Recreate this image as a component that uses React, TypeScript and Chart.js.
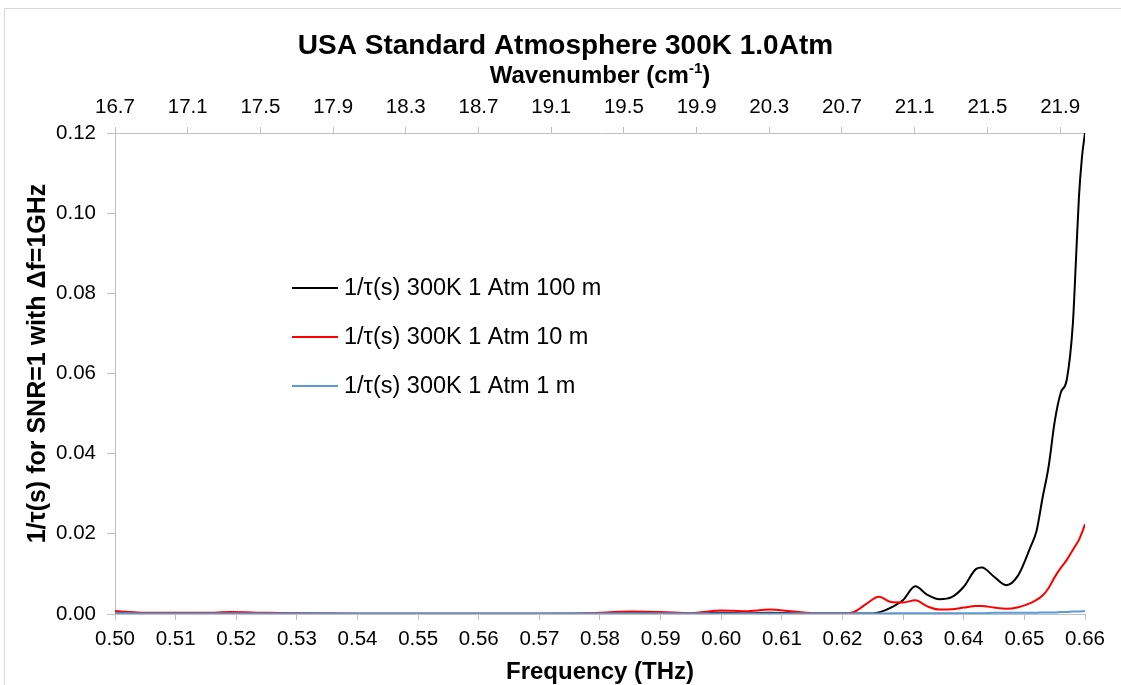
import React, { useEffect, useRef } from 'react';
import { Chart, registerables } from 'chart.js';

Chart.register(...registerables);

// ---- data ----
const FREQ_THZ = [
  0.500, 0.505, 0.510, 0.515, 0.519, 0.525, 0.530, 0.540, 0.550, 0.560,
  0.570, 0.578, 0.585, 0.590, 0.595, 0.600, 0.604, 0.608, 0.612, 0.616,
  0.620, 0.622, 0.624, 0.626, 0.628, 0.630, 0.632, 0.634, 0.636, 0.638,
  0.640, 0.642, 0.643, 0.645, 0.647, 0.649, 0.651, 0.652, 0.653, 0.654,
  0.655, 0.656, 0.657, 0.658, 0.6585, 0.659, 0.6595, 0.660,
];

const SERIES_100M = [
  0.0006, 0.0002, 0.0001, 0.0001, 0.0002, 0.0001, 0.0001, 0.0000, 0.0000, 0.0000,
  0.0000, 0.0001, 0.0002, 0.0002, 0.0001, 0.0003, 0.0002, 0.0003, 0.0002, 0.0001,
  0.0001, 0.0001, 0.0001, 0.0004, 0.0016, 0.0035, 0.0069, 0.0048, 0.0037, 0.0042,
  0.0068, 0.0112, 0.0116, 0.0093, 0.0072, 0.0097, 0.0167, 0.0207, 0.0290, 0.0368,
  0.0480, 0.0552, 0.0585, 0.0725, 0.0880, 0.1040, 0.1140, 0.1200,
];

const SERIES_10M = [
  0.0007, 0.0003, 0.0003, 0.0003, 0.0005, 0.0003, 0.0002, 0.0001, 0.0001, 0.0001,
  0.0001, 0.0002, 0.0006, 0.0005, 0.0002, 0.0009, 0.0007, 0.0011, 0.0006, 0.0002,
  0.0002, 0.0006, 0.0026, 0.0043, 0.0030, 0.0029, 0.0034, 0.0019, 0.0011, 0.0012,
  0.0016, 0.0020, 0.0020, 0.0016, 0.0013, 0.0017, 0.0027, 0.0035, 0.0046, 0.0065,
  0.0092, 0.0115, 0.0135, 0.0160, 0.0172, 0.0185, 0.0203, 0.0224,
];

const SERIES_1M = [
  0.0002, 0.0001, 0.0001, 0.0001, 0.0001, 0.0001, 0.0001, 0.0001, 0.0001, 0.0001,
  0.0001, 0.0001, 0.0001, 0.0001, 0.0001, 0.0001, 0.0001, 0.0001, 0.0001, 0.0001,
  0.0001, 0.0001, 0.0001, 0.0001, 0.0002, 0.0002, 0.0002, 0.0002, 0.0002, 0.0002,
  0.0002, 0.0002, 0.0002, 0.0003, 0.0003, 0.0003, 0.0003, 0.0003, 0.0004, 0.0004,
  0.0004, 0.0005, 0.0005, 0.0006, 0.0006, 0.0006, 0.0007, 0.0007,
];

const SERIES_NAMES = [
  '1/\u03c4(s) 300K 1 Atm 100 m',
  '1/\u03c4(s) 300K 1 Atm 10 m',
  '1/\u03c4(s) 300K 1 Atm 1 m',
];
const SERIES_COLORS = ['#000000', '#ff0000', '#5b9bd5'];

const FREQ_TICKS = [0.50, 0.51, 0.52, 0.53, 0.54, 0.55, 0.56, 0.57, 0.58, 0.59, 0.60, 0.61, 0.62, 0.63, 0.64, 0.65, 0.66];
const Y_TICKS = [0.00, 0.02, 0.04, 0.06, 0.08, 0.10, 0.12];
const WAVENUMBER_LABELS = ['16.7', '17.1', '17.5', '17.9', '18.3', '18.7', '19.1', '19.5', '19.9', '20.3', '20.7', '21.1', '21.5', '21.9'];
const WAVENUMBER_STEP = 0.4;

const TITLE = 'USA Standard Atmosphere 300K 1.0Atm';
const TOP_AXIS_TITLE = 'Wavenumber (cm';
const TOP_AXIS_SUP = '-1';
const X_TITLE = 'Frequency (THz)';
const Y_TITLE = '1/\u03c4(s) for SNR=1 with \u0394f=1GHz';

const C_CM_PER_S = 2.99792458e10;
const toWavenumber = (thz: number) => (thz * 1e12) / C_CM_PER_S;

const FONT = '"Liberation Sans", Arial, sans-serif';
const AXIS_GRAY = '#bfbfbf';

const decorPlugin = {
  id: 'decor',
  beforeDraw(chart: any) {
    const ctx = chart.ctx;
    ctx.save();
    ctx.fillStyle = '#ffffff';
    ctx.fillRect(0, 0, chart.width, chart.height);
    ctx.strokeStyle = '#d9d9d9';
    ctx.lineWidth = 1;
    ctx.strokeRect(4.5, 8.5, chart.width + 20, chart.height + 20);
    ctx.restore();
  },
  afterDraw(chart: any) {
    const ctx = chart.ctx;
    const area = chart.chartArea;
    ctx.save();
    ctx.fillStyle = '#000000';
    ctx.textAlign = 'center';
    ctx.textBaseline = 'middle';

    // main title
    ctx.font = `bold 28px ${FONT}`;
    ctx.fillText(TITLE, chart.width / 2 + 5, 46);

    // top axis title with superscript
    ctx.font = `bold 24px ${FONT}`;
    const wMain = ctx.measureText(TOP_AXIS_TITLE).width;
    ctx.font = `bold 15px ${FONT}`;
    const wSup = ctx.measureText(TOP_AXIS_SUP).width;
    ctx.font = `bold 24px ${FONT}`;
    const wClose = ctx.measureText(')').width;
    const total = wMain + wSup + wClose;
    const x0 = (area.left + area.right) / 2 - total / 2;
    const ty = 76;
    ctx.textAlign = 'left';
    ctx.fillText(TOP_AXIS_TITLE, x0, ty);
    ctx.font = `bold 15px ${FONT}`;
    ctx.fillText(TOP_AXIS_SUP, x0 + wMain, ty - 7);
    ctx.font = `bold 24px ${FONT}`;
    ctx.fillText(')', x0 + wMain + wSup, ty);

    // bottom axis title
    ctx.textAlign = 'center';
    ctx.font = `bold 24px ${FONT}`;
    ctx.fillText(X_TITLE, (area.left + area.right) / 2, 672);

    // y axis title
    ctx.save();
    ctx.translate(38, (area.top + area.bottom) / 2 - 10);
    ctx.rotate(-Math.PI / 2);
    ctx.font = `bold 25px ${FONT}`;
    ctx.fillText(Y_TITLE, 0, 0);
    ctx.restore();

    // legend
    const legendRows = [288, 337, 386];
    ctx.font = `23.5px ${FONT}`;
    ctx.textAlign = 'left';
    SERIES_NAMES.forEach((name, i) => {
      const y = legendRows[i];
      ctx.strokeStyle = SERIES_COLORS[i];
      ctx.lineWidth = 2;
      ctx.beginPath();
      ctx.moveTo(292, y);
      ctx.lineTo(338, y);
      ctx.stroke();
      ctx.fillStyle = '#000000';
      ctx.fillText(name, 344, y + 1);
    });
    ctx.restore();
  },
};

export default function App() {
  const canvasRef = useRef<HTMLCanvasElement | null>(null);

  useEffect(() => {
    const canvas = canvasRef.current;
    if (!canvas) return;
    const seriesValues = [SERIES_100M, SERIES_10M, SERIES_1M];
    const wnMin = toWavenumber(FREQ_TICKS[0]);
    const wnMax = toWavenumber(FREQ_TICKS[FREQ_TICKS.length - 1]);

    const chart = new Chart(canvas, {
      type: 'line',
      data: {
        datasets: seriesValues.map((vals, i) => ({
          label: SERIES_NAMES[i],
          data: FREQ_THZ.map((f, j) => ({ x: f, y: vals[j] })),
          borderColor: SERIES_COLORS[i],
          backgroundColor: SERIES_COLORS[i],
          borderWidth: 2,
          pointRadius: 0,
          fill: false,
          cubicInterpolationMode: 'monotone' as const,
          order: 2 - i,
          xAxisID: 'x',
          yAxisID: 'y',
        })),
      },
      options: {
        responsive: false,
        animation: false,
        devicePixelRatio: 1,
        layout: { padding: { left: 0, right: 36, top: 0, bottom: 0 } },
        plugins: {
          legend: { display: false },
          title: { display: false },
          tooltip: { enabled: false },
        },
        scales: {
          x: {
            type: 'linear',
            position: 'bottom',
            min: FREQ_TICKS[0],
            max: FREQ_TICKS[FREQ_TICKS.length - 1],
            afterBuildTicks: (scale: any) => {
              scale.ticks = FREQ_TICKS.map((v) => ({ value: v }));
            },
            afterFit: (scale: any) => {
              scale.height = 71;
              scale.paddingLeft = 0;
              scale.paddingRight = 0;
            },
            ticks: {
              callback: (v: any) => Number(v).toFixed(2),
              font: { family: FONT, size: 20.5 },
              color: '#000000',
              padding: 7,
              maxRotation: 0,
              autoSkip: false,
            },
            grid: { drawOnChartArea: false, drawTicks: true, tickLength: 6, color: AXIS_GRAY, lineWidth: 1 },
            border: { display: true, color: AXIS_GRAY, width: 1 },
          },
          x2: {
            type: 'linear',
            axis: 'x',
            position: 'top',
            min: wnMin,
            max: wnMax,
            afterBuildTicks: (scale: any) => {
              scale.ticks = WAVENUMBER_LABELS.map((_, i) => ({ value: wnMin + WAVENUMBER_STEP * i }));
            },
            afterFit: (scale: any) => {
              scale.height = 133;
              scale.paddingLeft = 0;
              scale.paddingRight = 0;
            },
            ticks: {
              callback: (_v: any, i: number) => WAVENUMBER_LABELS[i],
              font: { family: FONT, size: 20.5 },
              color: '#000000',
              padding: 7,
              maxRotation: 0,
              autoSkip: false,
            },
            grid: { drawOnChartArea: false, drawTicks: true, tickLength: 6, color: AXIS_GRAY, lineWidth: 1 },
            border: { display: true, color: AXIS_GRAY, width: 1 },
          },
          y: {
            type: 'linear',
            position: 'left',
            min: Y_TICKS[0],
            max: Y_TICKS[Y_TICKS.length - 1],
            afterBuildTicks: (scale: any) => {
              scale.ticks = Y_TICKS.map((v) => ({ value: v }));
            },
            afterFit: (scale: any) => {
              scale.width = 115;
              scale.paddingTop = 0;
              scale.paddingBottom = 0;
            },
            ticks: {
              callback: (v: any) => Number(v).toFixed(2),
              font: { family: FONT, size: 20.5 },
              color: '#000000',
              padding: 11,
            },
            grid: { drawOnChartArea: false, drawTicks: true, tickLength: 8, color: AXIS_GRAY, lineWidth: 1 },
            border: { display: true, color: AXIS_GRAY, width: 1 },
          },
        },
      } as any,
      plugins: [decorPlugin],
    });

    return () => chart.destroy();
  }, []);

  return (
    <div style={{ position: 'fixed', left: 0, top: 0, width: 1121, height: 685, background: '#ffffff' }}>
      <canvas ref={canvasRef} width={1121} height={685} style={{ display: 'block', width: 1121, height: 685 }} />
    </div>
  );
}
